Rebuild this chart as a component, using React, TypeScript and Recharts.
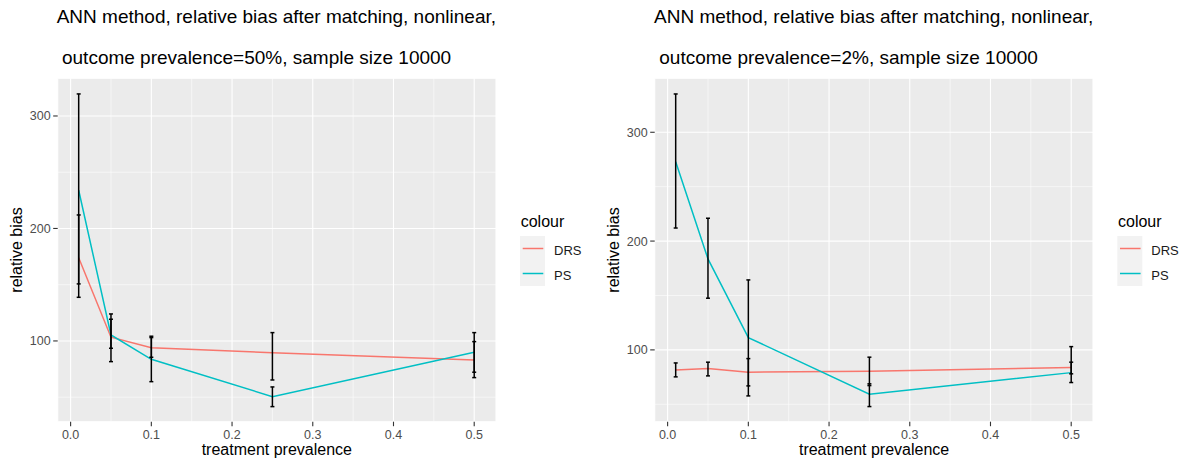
import React from 'react';
import { ComposedChart, Line, XAxis, YAxis, CartesianGrid, ErrorBar } from 'recharts';

const FONT = '"Liberation Sans", Arial, Helvetica, sans-serif';

// shared
const xValues = [0.01, 0.05, 0.1, 0.25, 0.5];
const seriesNames = ['DRS', 'PS'];
const seriesColors = ['#F8766D', '#00BFC4'];
const xTicks = [0, 0.1, 0.2, 0.3, 0.4, 0.5];
const xMinor = [0.05, 0.15, 0.25, 0.35, 0.45];
const yTicks = [100, 200, 300];
const yMinor = [50, 150, 250];

// panel 1: outcome prevalence 50%
const drs50 = [174, 103.3, 94, 89.5, 83.1];
const ps50 = [234, 105.3, 83.7, 50.5, 90];
const drs50Low = [150.7, 93.5, 85.5, 65.3, 67.4];
const drs50High = [212, 119.3, 103, 107.4, 99.4];
const ps50Low = [138.8, 81.6, 63.8, 41.6, 72.2];
const ps50High = [319.6, 124, 104.2, 59.1, 107.4];

// panel 2: outcome prevalence 2%
const drs2 = [81.6, 82.9, 79.5, 80.4, 83.8];
const ps2 = [273, 183.6, 111.3, 59.3, 79.1];
const drs2Low = [75.2, 76.1, 66.9, 67.2, 78];
const drs2High = [88, 88.7, 92, 68.8, 88.7];
const ps2Low = [212, 147.5, 57.7, 47.9, 70];
const ps2High = [335.2, 221, 164.3, 93.3, 103];

const titleLine1 = 'ANN method, relative bias after matching, nonlinear,';
const titleLine2a = ' outcome prevalence=50%, sample size 10000';
const titleLine2b = ' outcome prevalence=2%, sample size 10000';
const xLabel = 'treatment prevalence';
const yLabel = 'relative bias';
const legendTitle = 'colour';

function buildRows(drs: number[], ps: number[], dL: number[], dH: number[], pL: number[], pH: number[]) {
  return xValues.map((x, i) => ({
    x,
    DRS: drs[i],
    PS: ps[i],
    drsMid: (dL[i] + dH[i]) / 2,
    drsHalf: (dH[i] - dL[i]) / 2,
    psMid: (pL[i] + pH[i]) / 2,
    psHalf: (pH[i] - pL[i]) / 2,
  }));
}

const data50 = buildRows(drs50, ps50, drs50Low, drs50High, ps50Low, ps50High);
const data2 = buildRows(drs2, ps2, drs2Low, drs2High, ps2Low, ps2High);

const CW = 597;
const CH = 463;
const margin = { top: 78.3, left: 17.7, right: 101, bottom: 21.3 };
const xDomain: [number, number] = [-0.016, 0.527];

const tickStyle = { fill: '#4D4D4D', fontSize: 12.5, fontFamily: FONT };

function applyScale(s: any, v: number): number | null {
  if (typeof s === 'function') return s(v);
  if (s && typeof s.map === 'function') return s.map(v);
  if (s && typeof s.scale === 'function') return s.scale(v);
  return null;
}

function Panel({ data, yDomain }: { data: any[]; yDomain: [number, number] }) {
  const minorH = (p: any) => {
    const vals = yMinor.filter((v) => v > yDomain[0] && v < yDomain[1]);
    const { top, height } = p.offset;
    return vals.map((v) => {
      const r = applyScale(p?.yAxis?.scale, v);
      return r != null && isFinite(r) ? r : top + height * (1 - (v - yDomain[0]) / (yDomain[1] - yDomain[0]));
    });
  };
  const minorV = (p: any) => {
    const { left, width } = p.offset;
    return xMinor.map((v) => {
      const r = applyScale(p?.xAxis?.scale, v);
      return r != null && isFinite(r) ? r : left + (width * (v - xDomain[0])) / (xDomain[1] - xDomain[0]);
    });
  };
  return (
    <ComposedChart width={CW} height={CH} data={data} margin={margin}>
      <CartesianGrid stroke="#FFFFFF" strokeWidth={1.1} fill="#EBEBEB" fillOpacity={1} />
      <CartesianGrid
        stroke="#FFFFFF"
        strokeWidth={0.55}
        horizontalCoordinatesGenerator={minorH}
        verticalCoordinatesGenerator={minorV}
      />
      <XAxis
        dataKey="x"
        type="number"
        domain={xDomain}
        ticks={xTicks}
        allowDataOverflow
        axisLine={false}
        tickLine={{ stroke: '#333333', strokeWidth: 1.1 }}
        tickSize={4.5}
        tickMargin={4}
        height={20}
        tick={tickStyle}
        tickFormatter={(v: number) => (v === 0 ? '0.0' : String(v))}
        interval={0}
      />
      <YAxis
        type="number"
        domain={yDomain}
        ticks={yTicks}
        allowDataOverflow
        axisLine={false}
        tickLine={{ stroke: '#333333', strokeWidth: 1.1 }}
        tickSize={4.5}
        tickMargin={2.5}
        width={40}
        tick={tickStyle}
        interval={0}
      />
      {seriesNames.map((n, i) => (
        <Line
          key={n}
          dataKey={n}
          stroke={seriesColors[i]}
          strokeWidth={1.5}
          dot={false}
          activeDot={false}
          type="linear"
          isAnimationActive={false}
        />
      ))}
      <Line dataKey="drsMid" stroke="none" dot={false} activeDot={false} legendType="none" isAnimationActive={false}>
        <ErrorBar dataKey="drsHalf" width={2} stroke="#000000" strokeWidth={1.5} direction="y" isAnimationActive={false} />
      </Line>
      <Line dataKey="psMid" stroke="none" dot={false} activeDot={false} legendType="none" isAnimationActive={false}>
        <ErrorBar dataKey="psHalf" width={2} stroke="#000000" strokeWidth={1.5} direction="y" isAnimationActive={false} />
      </Line>
    </ComposedChart>
  );
}

function Annotations({ dx, line2 }: { dx: number; line2: string }) {
  return (
    <g transform={`translate(${dx},0)`} fontFamily={FONT}>
      <text x={56.7} y={23.3} fontSize={19} fill="#000">{titleLine1}</text>
      <text x={56.7} y={63.5} fontSize={19} fill="#000" style={{ whiteSpace: 'pre' }}>{line2}</text>
      <text x={276.8} y={455} fontSize={16} fill="#000" textAnchor="middle">{xLabel}</text>
      <text x={0} y={0} fontSize={16} fill="#000" textAnchor="middle" transform="translate(22,250) rotate(-90)">
        {yLabel}
      </text>
      <text x={520.7} y={226.7} fontSize={16} fill="#000">{legendTitle}</text>
      {seriesNames.map((n, i) => (
        <g key={n}>
          <rect x={520} y={236 + i * 25} width={25} height={25} fill="#F2F2F2" />
          <line x1={522.7} x2={543.3} y1={248.5 + i * 25} y2={248.5 + i * 25} stroke={seriesColors[i]} strokeWidth={1.5} />
          <text x={554} y={254.5 + i * 25} fontSize={13} fill="#1A1A1A">{n}</text>
        </g>
      ))}
    </g>
  );
}

export default function App() {
  return (
    <div style={{ position: 'absolute', left: 0, top: 0, width: 1187, height: 463, background: '#fff', overflow: 'hidden' }}>
      <div style={{ position: 'absolute', left: 0, top: 0 }}>
        <Panel data={data50} yDomain={[28.2, 333.5]} />
      </div>
      <div style={{ position: 'absolute', left: 597.3, top: 0 }}>
        <Panel data={data2} yDomain={[34, 349.6]} />
      </div>
      <svg width={1187} height={463} style={{ position: 'absolute', left: 0, top: 0, pointerEvents: 'none' }}>
        <Annotations dx={0} line2={titleLine2a} />
        <Annotations dx={597.3} line2={titleLine2b} />
      </svg>
    </div>
  );
}
